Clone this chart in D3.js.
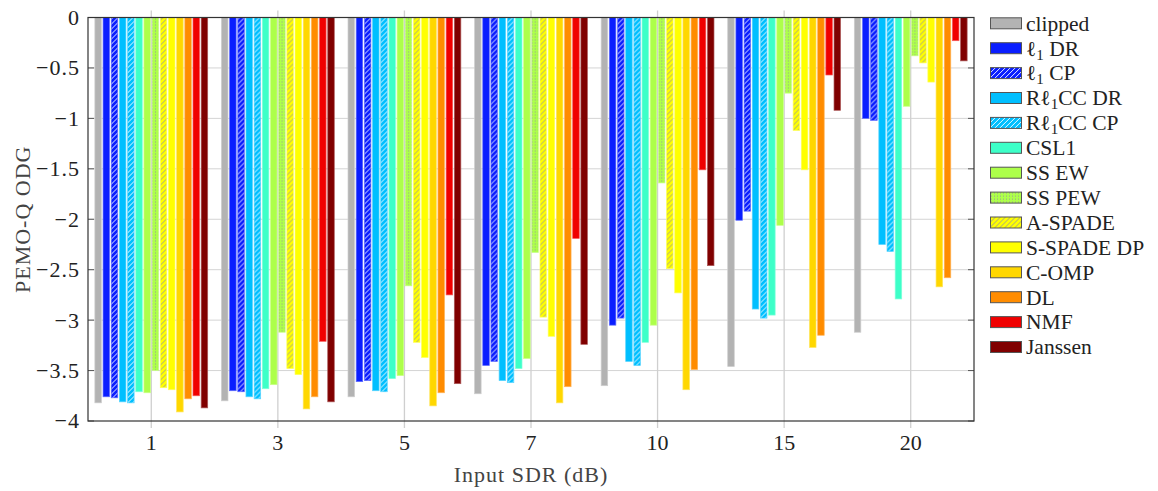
<!DOCTYPE html>
<html>
<head>
<meta charset="utf-8">
<script src="https://cdn.jsdelivr.net/npm/d3@7"></script>
<style>
  body { margin: 0; background: #fff; }
  svg text { font-family: 'Liberation Serif', 'DejaVu Serif', serif; fill: #222; }
</style>
</head>
<body>
<svg id="chart" width="1158" height="491" font-family="Liberation Serif"></svg>
<script>
// categories (input SDR in dB)
const categories = ["1", "3", "5", "7", "10", "15", "20"];

// methods, in the order of bars and legend
const methods = ["clipped", "l1DR", "l1CP", "Rl1CCDR", "Rl1CCCP", "CSL1", "SSEW", "SSPEW",
  "ASPADE", "SSPADEDP", "COMP", "DL", "NMF", "Janssen"];

// PEMO-Q ODG per method, one value per category
const clipped  = [-3.82, -3.80, -3.76, -3.73, -3.65, -3.46, -3.12];
const l1DR     = [-3.76, -3.70, -3.61, -3.45, -3.05, -2.01, -1.00];
const l1CP     = [-3.77, -3.71, -3.60, -3.41, -2.98, -1.92, -1.02];
const Rl1CCDR  = [-3.81, -3.76, -3.70, -3.60, -3.41, -2.89, -2.25];
const Rl1CCCP  = [-3.82, -3.78, -3.71, -3.62, -3.45, -2.98, -2.32];
const CSL1     = [-3.71, -3.68, -3.58, -3.48, -3.22, -2.95, -2.79];
const SSEW     = [-3.72, -3.64, -3.55, -3.38, -3.05, -2.06, -0.88];
const SSPEW    = [-3.50, -3.12, -2.66, -2.33, -1.64, -0.75, -0.38];
const ASPADE   = [-3.67, -3.48, -3.22, -2.97, -2.49, -1.12, -0.45];
const SSPADEDP = [-3.69, -3.54, -3.37, -3.16, -2.73, -1.51, -0.64];
const COMP     = [-3.91, -3.88, -3.85, -3.82, -3.69, -3.27, -2.67];
const DL       = [-3.78, -3.76, -3.72, -3.66, -3.49, -3.15, -2.58];
const NMF      = [-3.75, -3.21, -2.75, -2.19, -1.51, -0.57, -0.23];
const Janssen  = [-3.87, -3.81, -3.63, -3.24, -2.46, -0.92, -0.43];

const yTicks = [0, -0.5, -1, -1.5, -2, -2.5, -3, -3.5, -4];

const seriesValues = {clipped, l1DR, l1CP, Rl1CCDR, Rl1CCCP, CSL1, SSEW, SSPEW,
  ASPADE, SSPADEDP, COMP, DL, NMF, Janssen};

// look of each method: base colour and optional pattern
const style = {
  clipped:  {color: "#b3b3b3"},
  l1DR:     {color: "#0a1eff"},
  l1CP:     {color: "#0a1eff", pattern: "hatchWhite"},
  Rl1CCDR:  {color: "#00bfff"},
  Rl1CCCP:  {color: "#00bfff", pattern: "hatchWhite"},
  CSL1:     {color: "#3dffc8"},
  SSEW:     {color: "#adff4a"},
  SSPEW:    {color: "#adff4a", pattern: "dots"},
  ASPADE:   {color: "#ffff00", pattern: "hatchGray"},
  SSPADEDP: {color: "#ffff00"},
  COMP:     {color: "#ffd700"},
  DL:       {color: "#ff8c00"},
  NMF:      {color: "#f00000"},
  Janssen:  {color: "#800000"}
};

const serif = "'Liberation Serif', 'DejaVu Serif', serif";

const margin = {top: 17.5, left: 88, right: 184, bottom: 70};
const width = 1158 - margin.left - margin.right;   // 886
const height = 421 - margin.top;

const svg = d3.select("#chart");
const defs = svg.append("defs");

// pattern defs: each one paints its base colour then the overlay
function addHatch(id, bg, lineColor) {
  const p = defs.append("pattern")
      .attr("id", id)
      .attr("patternUnits", "userSpaceOnUse")
      .attr("width", 5)
      .attr("height", 5);
  p.append("rect").attr("width", 5).attr("height", 5).attr("fill", bg);
  p.append("path")
      .attr("d", "M-1,1 l2,-2 M0,5 l5,-5 M4,6 l2,-2")
      .attr("stroke", lineColor)
      .attr("stroke-width", 0.9);
}
function addDots(id, bg, dotColor) {
  const p = defs.append("pattern")
      .attr("id", id)
      .attr("patternUnits", "userSpaceOnUse")
      .attr("width", 3)
      .attr("height", 3);
  p.append("rect").attr("width", 3).attr("height", 3).attr("fill", bg);
  p.append("rect").attr("x", 1).attr("y", 1).attr("width", 1).attr("height", 1).attr("fill", dotColor);
}

methods.forEach(function(m) {
  const s = style[m];
  if (s.pattern === "hatchWhite") addHatch("pat-" + m, s.color, "#ffffff");
  if (s.pattern === "hatchGray") addHatch("pat-" + m, s.color, "#9a9a9a");
  if (s.pattern === "dots") addDots("pat-" + m, s.color, "#9a9a9a");
});

function fillOf(m) {
  return style[m].pattern ? "url(#pat-" + m + ")" : style[m].color;
}
function edgeOf(m) {
  return d3.interpolateRgb(style[m].color, "#ffffff")(0.35);
}

const g = svg.append("g").attr("transform", "translate(" + margin.left + "," + margin.top + ")");

// scales
const x0 = d3.scaleBand().domain(categories).range([0, width]);
const x1 = d3.scaleBand().domain(methods).range([0, x0.bandwidth()])
    .paddingInner(0.2)
    .paddingOuter(0.84);
const y = d3.scaleLinear().domain([-4, 0]).range([height, 0]);

// grid lines
g.append("g")
    .selectAll("line")
    .data(yTicks.filter(d => d !== 0 && d !== -4))
    .enter()
    .append("line")
    .attr("x1", 0)
    .attr("x2", width)
    .attr("y1", d => y(d))
    .attr("y2", d => y(d))
    .attr("stroke", "#d4d4d4")
    .attr("stroke-width", 1);

g.append("g")
    .selectAll("line")
    .data(categories)
    .enter()
    .append("line")
    .attr("x1", d => x0(d) + x0.bandwidth() / 2)
    .attr("x2", d => x0(d) + x0.bandwidth() / 2)
    .attr("y1", -7)
    .attr("y2", height + 7)
    .attr("stroke", "#cfcfcf")
    .attr("stroke-width", 1.3);

// bars
const groups = g.append("g")
    .selectAll("g")
    .data(categories)
    .enter()
    .append("g")
    .attr("transform", d => "translate(" + x0(d) + ",0)");

groups.selectAll("rect")
    .data(function(cat, ci) {
      return methods.map(m => ({m: m, v: seriesValues[m][ci]}));
    })
    .enter()
    .append("rect")
    .attr("x", d => x1(d.m))
    .attr("width", x1.bandwidth())
    .attr("y", y(0))
    .attr("height", d => y(d.v) - y(0))
    .attr("fill", d => fillOf(d.m))
    .attr("stroke", d => edgeOf(d.m))
    .attr("stroke-width", 0.7);

// y ticks (inside, both sides)
g.append("g")
    .selectAll("path")
    .data(yTicks)
    .enter()
    .append("path")
    .attr("d", d => "M0," + y(d) + "h6M" + width + "," + y(d) + "h-6")
    .attr("stroke", "#555")
    .attr("stroke-width", 1);

// frame
g.append("rect")
    .attr("width", width)
    .attr("height", height)
    .attr("fill", "none")
    .attr("stroke", "#333")
    .attr("stroke-width", 1.2);

// tick labels
const fmt = d => d === 0 ? "0" : "\u2212" + Math.abs(d);
g.append("g")
    .selectAll("text")
    .data(yTicks)
    .enter()
    .append("text")
    .attr("x", -8)
    .attr("y", d => y(d))
    .attr("dy", "0.34em")
    .attr("text-anchor", "end")
    .attr("font-family", serif)
    .style("font-size", "22px")
    .style("letter-spacing", "1px")
    .text(fmt);

g.append("g")
    .selectAll("text")
    .data(categories)
    .enter()
    .append("text")
    .attr("x", d => x0(d) + x0.bandwidth() / 2)
    .attr("y", height + 29)
    .attr("text-anchor", "middle")
    .attr("font-family", serif)
    .style("font-size", "22px")
    .text(d => d);

// axis titles
g.append("text")
    .attr("x", width / 2)
    .attr("y", height + 61)
    .attr("text-anchor", "middle")
    .attr("font-family", serif)
    .style("font-size", "22px")
    .style("letter-spacing", "1px")
    .style("fill", "#444")
    .text("Input SDR (dB)");

g.append("text")
    .attr("transform", "translate(" + (-58) + "," + (height / 2) + ") rotate(-90)")
    .attr("text-anchor", "middle")
    .attr("font-family", serif)
    .style("font-size", "22px")
    .style("letter-spacing", "1px")
    .style("fill", "#444")
    .text("PEMO-Q ODG");

// legend
const legendLabels = {
  clipped: ["clipped"],
  l1DR: ["\u2113", "1", " DR"],
  l1CP: ["\u2113", "1", " CP"],
  Rl1CCDR: ["R\u2113", "1", "CC DR"],
  Rl1CCCP: ["R\u2113", "1", "CC CP"],
  CSL1: ["CSL1"],
  SSEW: ["SS EW"],
  SSPEW: ["SS PEW"],
  ASPADE: ["A-SPADE"],
  SSPADEDP: ["S-SPADE DP"],
  COMP: ["C-OMP"],
  DL: ["DL"],
  NMF: ["NMF"],
  Janssen: ["Janssen"]
};

const legend = svg.append("g").attr("transform", "translate(990,23.3)");
const rowH = 24.9;
const rows = legend.selectAll("g")
    .data(methods)
    .enter()
    .append("g")
    .attr("transform", (d, i) => "translate(0," + (i * rowH) + ")");

rows.append("rect")
    .attr("x", 0.5)
    .attr("y", -5.5)
    .attr("width", 31)
    .attr("height", 11)
    .attr("fill", d => fillOf(d))
    .attr("stroke", "#555")
    .attr("stroke-width", 1);

rows.append("text")
    .attr("x", 36)
    .attr("dy", "0.34em")
    .attr("font-family", serif)
    .style("font-size", "21.5px")
    .each(function(d) {
      const parts = legendLabels[d];
      const t = d3.select(this);
      if (parts.length === 1) {
        t.text(parts[0]);
      } else {
        t.append("tspan").text(parts[0]);
        t.append("tspan").attr("dy", 4).style("font-size", "15px").text(parts[1]);
        t.append("tspan").attr("dy", -4).text(parts[2]);
      }
    });
</script>
</body>
</html>
